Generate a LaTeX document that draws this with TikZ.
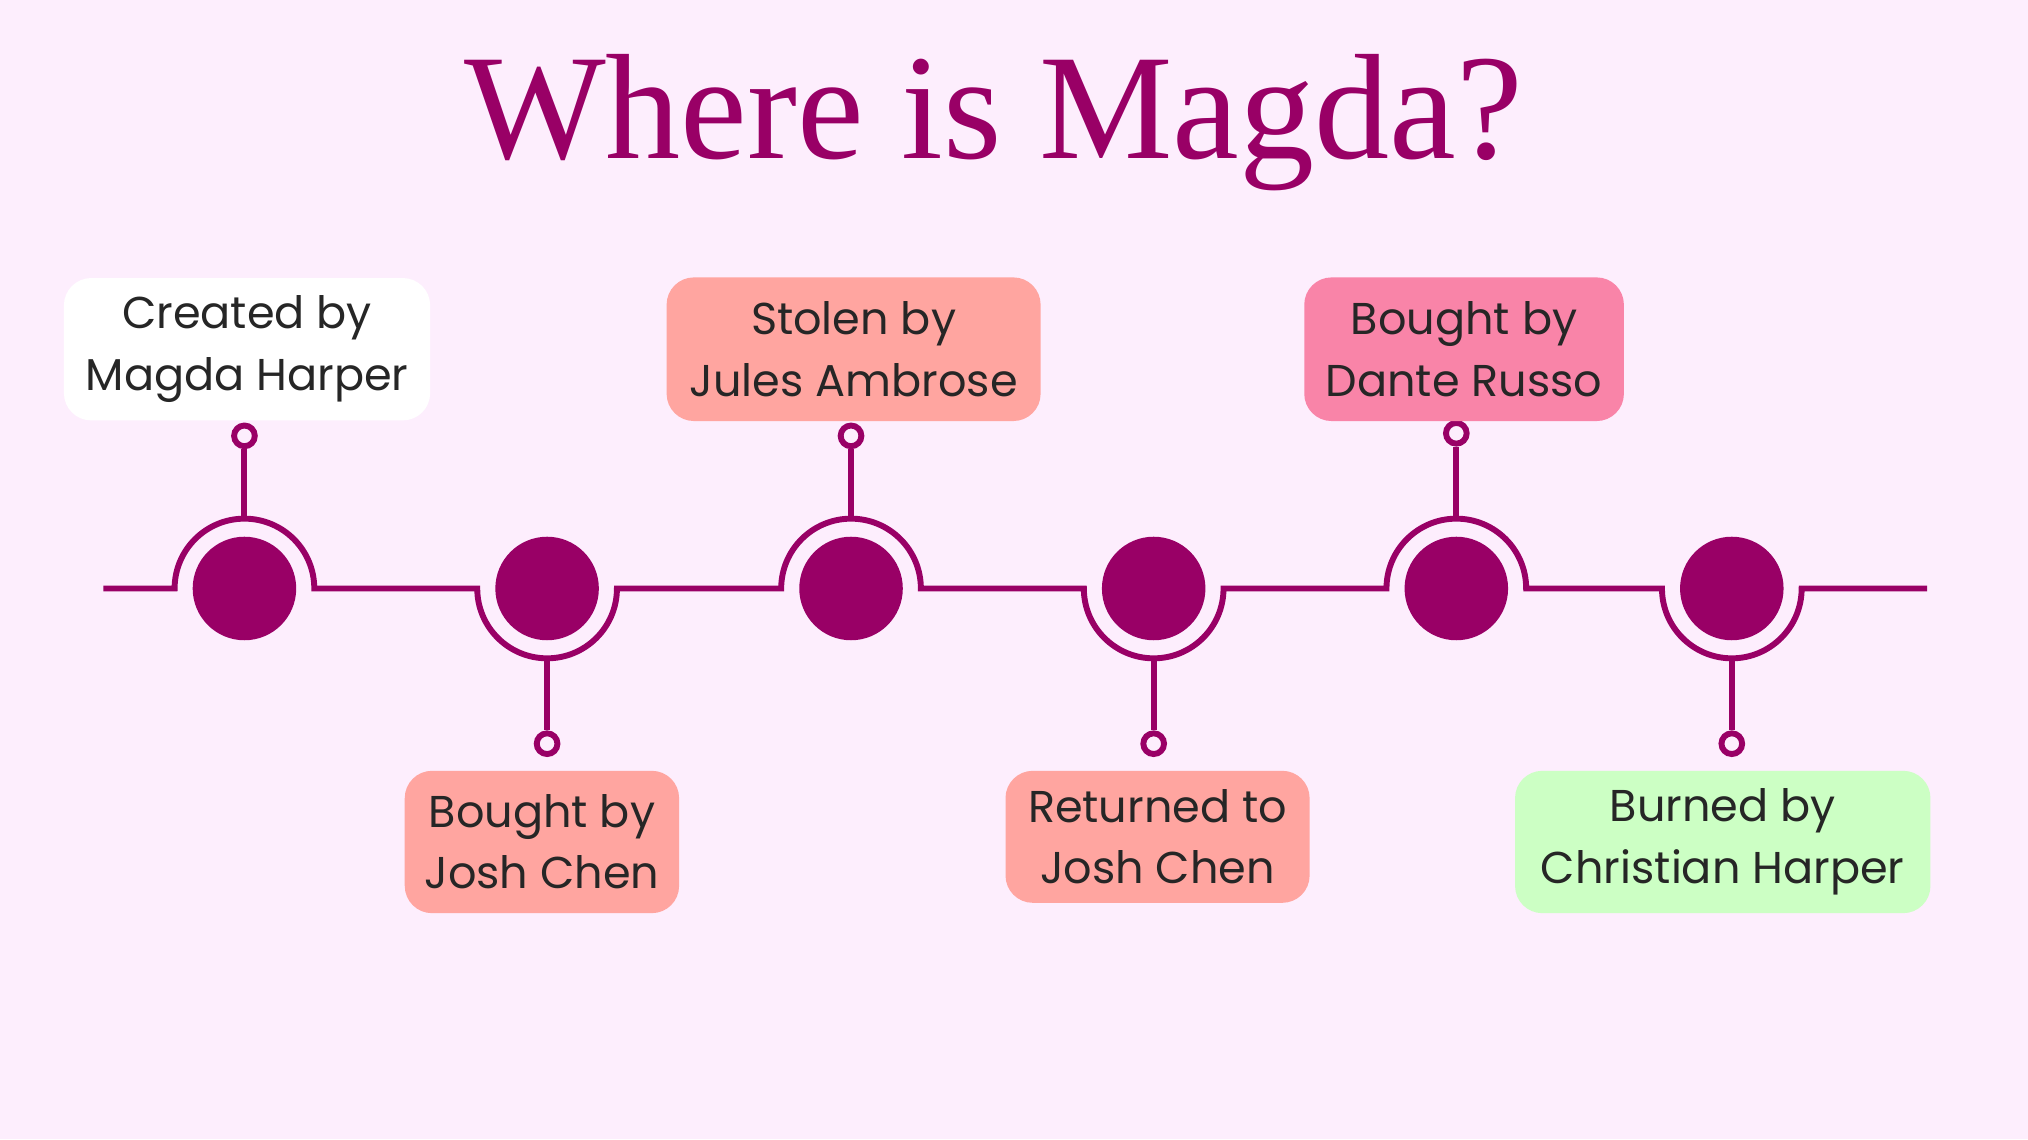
\documentclass[tikz,border=0pt]{standalone}
\usepackage{fontspec}
\setmainfont{Liberation Serif}
\newfontfamily\boxfont{Poppins}
\definecolor{bgc}{HTML}{FDEEFD}
\definecolor{plum}{HTML}{990066}
\definecolor{salmon}{HTML}{FFA5A0}
\definecolor{rosy}{HTML}{F984A8}
\definecolor{mint}{HTML}{CCFFC4}
\begin{document}
\begin{tikzpicture}[x=0.01cm,y=-0.01cm,
  card/.style={rounded corners=6pt,inner sep=0pt,align=center,font=\boxfont\fontsize{9.8}{13.5}\selectfont,text=black!85},
  tline/.style={draw=plum,line width=1.3pt},
  dot/.style={circle,fill=plum,minimum size=0.8cm,inner sep=0pt},
  pin/.style={circle,draw=plum,fill=bgc,line width=1.3pt,minimum size=0.16cm,inner sep=0pt}]
\fill[bgc] (0,0) rectangle (1568,881);
\useasboundingbox (0,0) rectangle (1568,881);
\node[text=plum,font=\fontsize{33}{36}\selectfont] (title) at (768,95) {Where is Magda?};
% timeline
\draw[tline] (80,455) -- (135,455) arc[start angle=180,end angle=360,radius=54]
  -- (369,455) arc[start angle=180,end angle=0,radius=54]
  -- (604,455) arc[start angle=180,end angle=360,radius=54]
  -- (838,455) arc[start angle=180,end angle=0,radius=54]
  -- (1072,455) arc[start angle=180,end angle=360,radius=54]
  -- (1285,455) arc[start angle=180,end angle=0,radius=54] -- (1490,455);
\foreach \n/\x in {d1/189,d2/423,d3/658,d4/892,d5/1126,d6/1339}{\node[dot] (\n) at (\x,455) {};}
\coordinate (r1) at (189,401); \coordinate (r3) at (658,401); \coordinate (r5) at (1126,401);
\coordinate (r2) at (423,509); \coordinate (r4) at (892,509); \coordinate (r6) at (1339,509);
\node[pin] (p1) at (189,337) {}; \node[pin] (p3) at (658,337) {}; \node[pin] (p5) at (1126,335) {};
\node[pin] (p2) at (423,575) {}; \node[pin] (p4) at (892,575) {}; \node[pin] (p6) at (1339,575) {};
\foreach \a/\b in {r1/p1,r3/p3,r5/p5,r2/p2,r4/p4,r6/p6}{\draw[tline] (\a) -- (\b);}
% cards
\node[card,fill=white,minimum width=2.83cm,minimum height=1.1cm] (c1) at (191,270) {Created by\\Magda Harper};
\node[card,fill=salmon,minimum width=2.12cm,minimum height=1.1cm] (c2) at (419,651) {Bought by\\Josh Chen};
\node[card,fill=salmon,minimum width=2.89cm,minimum height=1.11cm] (c3) at (660,270) {Stolen by\\Jules Ambrose};
\node[card,fill=salmon,minimum width=2.35cm,minimum height=1.02cm] (c4) at (895,647) {Returned to\\Josh Chen};
\node[card,fill=rosy,minimum width=2.47cm,minimum height=1.11cm] (c5) at (1132,270) {Bought by\\Dante Russo};
\node[card,fill=mint,minimum width=3.21cm,minimum height=1.1cm] (c6) at (1332,651) {Burned by\\Christian Harper};
\end{tikzpicture}
\end{document}
